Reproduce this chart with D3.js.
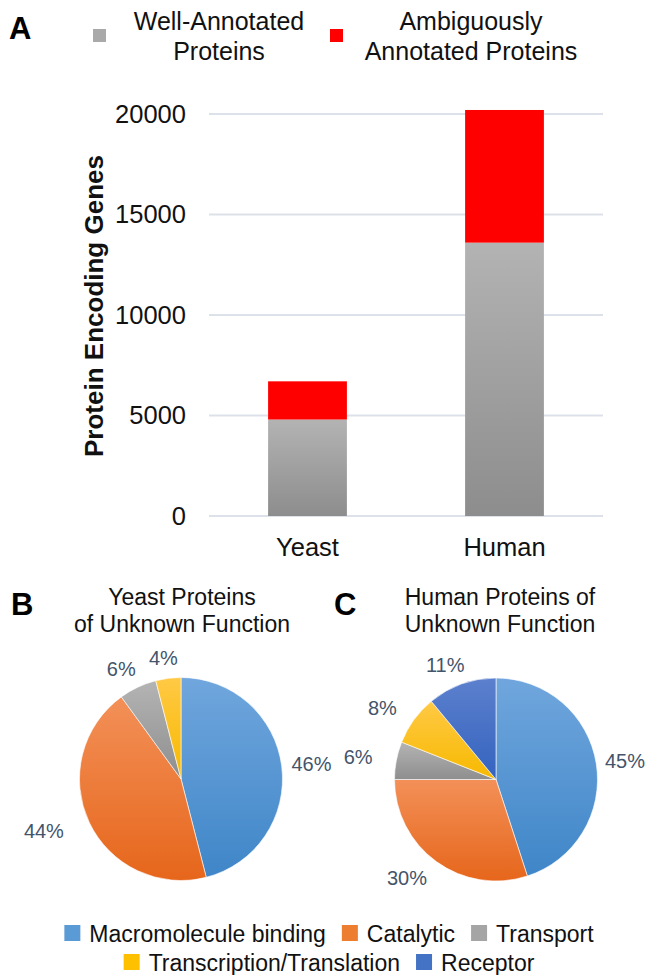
<!DOCTYPE html>
<html>
<head>
<meta charset="utf-8">
<script src="https://cdn.jsdelivr.net/npm/d3@7"></script>
<style>
  html, body { margin: 0; padding: 0; background: #fff; }
  svg { display: block; font-family: "Liberation Sans", Arial, Helvetica, sans-serif; }
  svg text { font-family: "Liberation Sans", Arial, Helvetica, sans-serif; }
</style>
</head>
<body>
<svg id="chart" width="646" height="975"></svg>
<script>
// ---------------- DATA ----------------
const species = ["Yeast", "Human"];
const wellAnnotated = [4800, 13600];
const ambiguous = [1900, 6600];
const yTicks = [0, 5000, 10000, 15000, 20000];
const seriesNames = ["Well-Annotated Proteins", "Ambiguously Annotated Proteins"];

const functionCategories = ["Macromolecule binding", "Catalytic", "Transport", "Transcription/Translation", "Receptor"];
const yeastShares = [46, 44, 6, 4, 0];
const humanShares = [45, 30, 6, 8, 11];

// ---------------- SETUP ----------------
const FONT = "'Liberation Sans', Arial, Helvetica, sans-serif";
const W = 646;
const svg = d3.select("#chart");
const defs = svg.append("defs");

function vGrad(id, top, bottom) {
  const g = defs.append("linearGradient").attr("id", id)
    .attr("x1", 0).attr("y1", 0).attr("x2", 0).attr("y2", 1);
  g.append("stop").attr("offset", "0%").attr("stop-color", top);
  g.append("stop").attr("offset", "100%").attr("stop-color", bottom);
}
vGrad("gBarGray", "#b3b3b3", "#8d8d8d");
vGrad("gBlue", "#70a6dd", "#3f86c8");
vGrad("gOrange", "#f39058", "#e6661b");
vGrad("gGray", "#b4b4b4", "#8e8e8e");
vGrad("gYellow", "#ffc945", "#f7b900");
vGrad("gDarkBlue", "#5c80cd", "#3463bf");

const sliceFills = ["url(#gBlue)", "url(#gOrange)", "url(#gGray)", "url(#gYellow)", "url(#gDarkBlue)"];
const legendColors = ["#5b9bd5", "#ed7d31", "#a5a5a5", "#ffc000", "#4472c4"];

// ---------------- PANEL A: stacked bars ----------------
const x = d3.scaleBand().domain(species).range([209, 603]).paddingInner(0.6).paddingOuter(0.3);
const y = d3.scaleLinear().domain([0, 20000]).range([516, 114]);

svg.append("g").selectAll("line").data(yTicks).join("line")
  .attr("x1", 209).attr("x2", 603)
  .attr("y1", d => y(d)).attr("y2", d => y(d))
  .attr("stroke", "#dde1e9").attr("stroke-width", 1.8);

const yAxis = svg.append("g").attr("transform", "translate(209,0)")
  .call(d3.axisLeft(y).tickValues(yTicks).tickFormat(d3.format("d")).tickSize(0).tickPadding(23));
yAxis.select(".domain").remove();
yAxis.selectAll("text").attr("font-size", 25.5).attr("fill", "#111").attr("font-family", FONT);

const xAxis = svg.append("g").attr("transform", "translate(0,516)")
  .call(d3.axisBottom(x).tickSize(0).tickPadding(22));
xAxis.select(".domain").remove();
xAxis.selectAll("text").attr("font-size", 25.5).attr("fill", "#111").attr("font-family", FONT);

const stackData = species.map((s, i) => ({ species: s, well: wellAnnotated[i], amb: ambiguous[i] }));
const stack = d3.stack().keys(["well", "amb"])(stackData);
const barFills = ["url(#gBarGray)", "#ff0000"];
svg.append("g").selectAll("g").data(stack).join("g")
  .attr("fill", (d, i) => barFills[i])
  .selectAll("rect").data(d => d).join("rect")
  .attr("x", d => x(d.data.species))
  .attr("width", x.bandwidth())
  .attr("y", d => y(d[1]))
  .attr("height", d => y(d[0]) - y(d[1]));

svg.append("text")
  .attr("transform", "translate(103,306) rotate(-90)")
  .attr("text-anchor", "middle")
  .attr("font-size", 26).attr("font-weight", "bold").attr("fill", "#111")
  .text("Protein Encoding Genes");

// panel label A
svg.append("text").attr("x", 9).attr("y", 39).attr("font-size", 31).attr("font-weight", "bold").text("A");

// top legend
const topLegend = [
  { color: "#a9a9a9", sq: [93, 29], lines: ["Well-Annotated", "Proteins"], cx: 219 },
  { color: "#ff0000", sq: [330, 29], lines: ["Ambiguously", "Annotated Proteins"], cx: 471 }
];
topLegend.forEach((d, i) => {
  svg.append("rect").attr("x", d.sq[0]).attr("y", d.sq[1]).attr("width", 13).attr("height", 13)
    .attr("fill", d.color);
  const t = svg.append("text").attr("text-anchor", "middle").attr("font-size", 25).attr("fill", "#111")
    .attr("aria-label", seriesNames[i]);
  d.lines.forEach((l, j) => {
    t.append("tspan").attr("x", d.cx).attr("y", 29.5 + j * 30.5).text(l);
  });
});

// ---------------- PANELS B, C: pies ----------------
const R = 101.5;
const pie = d3.pie().sort(null).value(d => d.v);
const arc = d3.arc().innerRadius(0).outerRadius(R);

function drawPie(cx, cy, shares, label, titleLines, titleCx, labelX) {
  svg.append("text").attr("x", labelX).attr("y", 615).attr("font-size", 31).attr("font-weight", "bold").text(label);
  const tt = svg.append("text").attr("text-anchor", "middle").attr("font-size", 23).attr("fill", "#111");
  titleLines.forEach((l, j) => tt.append("tspan").attr("x", titleCx).attr("y", 605 + j * 27).text(l));

  const data = shares.map((v, i) => ({ v, i })).filter(d => d.v > 0);
  const arcs = pie(data);
  const g = svg.append("g").attr("transform", `translate(${cx},${cy})`);
  g.selectAll("path").data(arcs).join("path")
    .attr("d", arc)
    .attr("fill", d => sliceFills[d.data.i])
    .attr("stroke", "#fff").attr("stroke-width", 0.6);

  const gap = 10;
  g.selectAll("text").data(arcs).join("text")
    .attr("font-size", 20).attr("fill", "#44546a")
    .attr("text-anchor", "middle").attr("dominant-baseline", "central")
    .text(d => d.data.v + "%")
    .each(function (d) {
      const a = (d.startAngle + d.endAngle) / 2;
      const w = this.getComputedTextLength();
      const h = 20;
      const s = Math.sin(a);
      const ax = (R + gap) * s, ay = -(R + gap) * Math.cos(a);
      // labels on the left side sit a little farther out
      let lx = ax + s * (s < 0 ? w : w / 2);
      lx = Math.min(lx, W - 1 - cx - w / 2);
      d3.select(this).attr("x", lx).attr("y", ay - Math.cos(a) * h / 2);
    });
}
drawPie(181, 779, yeastShares, "B", ["Yeast Proteins", "of Unknown Function"], 182, 11);
drawPie(496, 779.5, humanShares, "C", ["Human Proteins of", "Unknown Function"], 500, 334);

// ---------------- bottom legend ----------------
const legRows = [[0, 1, 2], [3, 4]];
const rowBase = [942, 971];
legRows.forEach((row, ri) => {
  const g = svg.append("g");
  let xpos = 0;
  row.forEach(ci => {
    const it = g.append("g").attr("transform", `translate(${xpos},0)`);
    it.append("rect").attr("x", 0).attr("y", rowBase[ri] - 17).attr("width", 16).attr("height", 16)
      .attr("fill", legendColors[ci]);
    const t = it.append("text").attr("x", 25).attr("y", rowBase[ri]).attr("font-size", 23).attr("fill", "#111")
      .text(functionCategories[ci]);
    xpos += 25 + t.node().getComputedTextLength() + 16;
  });
  const total = xpos - 16;
  g.attr("transform", `translate(${(W - total) / 2 + 6},0)`);
});
</script>
</body>
</html>
